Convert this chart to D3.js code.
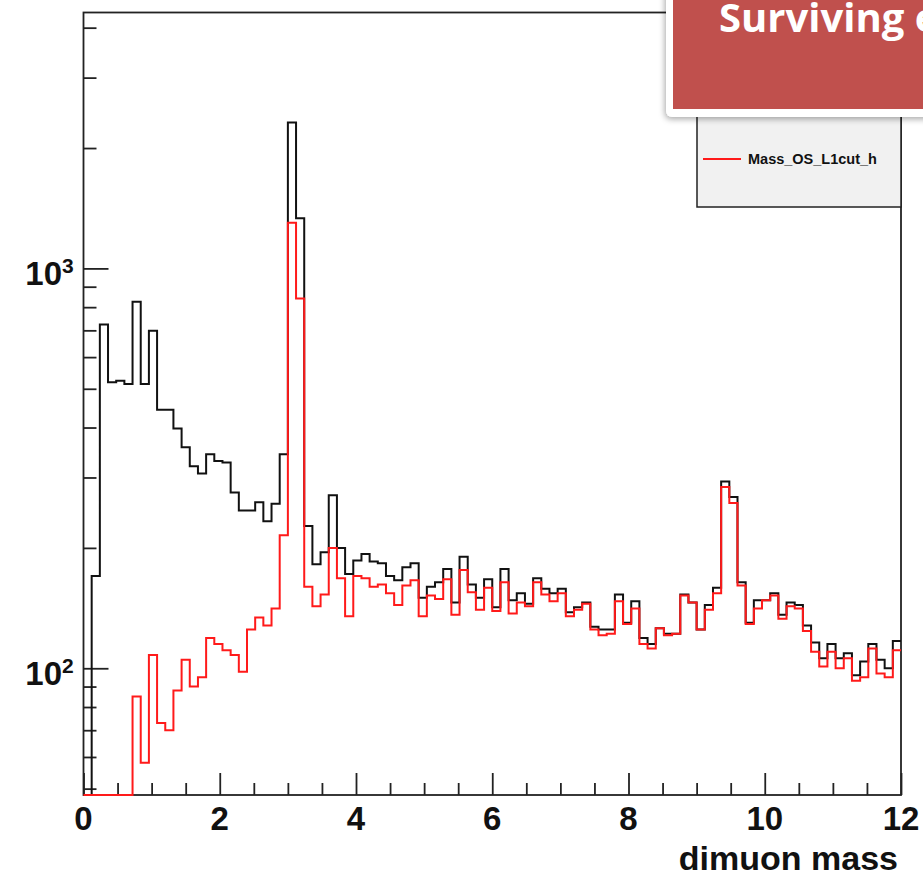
<!DOCTYPE html>
<html lang="en">
<head>
    <meta charset="UTF-8">
    <title>dimuon mass</title>
    <script src="https://d3js.org/d3.v7.min.js"></script>
    <style>
        body { margin: 0; background: #fff; }
        svg { display: block; font-family: "Liberation Sans", Arial, sans-serif; }
    </style>
</head>
<body>
<div id="chart"></div>
<script>
    // histogram binning: 100 bins between 0 and 12
    var binLow = 0;
    var binHigh = 12;
    // all opposite-sign pairs (black)
    var massOS = [
        0, 170, 724, 519, 524, 514, 825, 514, 698, 443,
        443, 398, 357, 320, 307, 343, 330, 327, 275, 248,
        248, 260, 233, 258, 343, 2317, 1334, 227, 182, 195,
        271, 200, 172, 186, 193, 185, 183, 170, 166, 179,
        183, 150, 160, 164, 177, 146, 190, 162, 150, 167,
        142, 177, 148, 154, 145, 168, 158, 154, 158, 138,
        142, 146, 127, 125, 125, 153, 130, 147, 119, 115,
        126, 122, 122, 153, 146, 125, 144, 159, 293, 268,
        164, 130, 148, 148, 154, 136, 146, 144, 128, 116,
        106, 115, 106, 109, 96, 104, 115, 105, 100, 117
    ];
    // after L1 cut (red)
    var massOSL1cut = [
        0, 0, 0, 0, 0, 0, 85, 58, 108, 73,
        70, 88, 105, 90, 95, 119, 115, 111, 108, 98,
        125, 134, 128, 141, 215, 1300, 841, 160, 143, 153,
        200, 168, 135, 170, 168, 160, 162, 154, 144, 161,
        166, 135, 152, 149, 167, 136, 176, 155, 140, 159,
        139, 164, 137, 146, 143, 164, 153, 147, 154, 135,
        140, 145, 125, 121, 122, 147, 129, 141, 115, 112,
        126, 121, 122, 152, 146, 125, 140, 154, 284, 259,
        161, 129, 141, 148, 152, 133, 143, 141, 124, 110,
        101, 110, 100, 106, 93, 95, 112, 97, 95, 111
    ];
    var xMajorTicks = [0, 2, 4, 6, 8, 10, 12];
    var xMinorTicks = [0.5, 1, 1.5, 2.5, 3, 3.5, 4.5, 5, 5.5, 6.5, 7, 7.5, 8.5, 9, 9.5, 10.5, 11, 11.5];
    var yMajorTicks = [100, 1000];
    var yExponents = ["2", "3"];
    var yMinorTicks = [50, 60, 70, 80, 90, 200, 300, 400, 500, 600, 700, 800, 900, 2000, 3000, 4000];
    var yRange = [48.2, 4365];
    var xTitle = "dimuon mass";
    var legendLabel = "Mass_OS_L1cut_h";
    var bannerTitle = "Surviving events";

    var W = 923, H = 879;
    var frame = { left: 83.5, right: 901, top: 12.5, bottom: 795 };

    var svg = d3.select("#chart")
        .append("svg")
        .attr("width", W)
        .attr("height", H);

    var defs = svg.append("defs");
    defs.append("filter")
        .attr("id", "shadow")
        .attr("x", "-20%").attr("y", "-20%")
        .attr("width", "140%").attr("height", "160%")
        .append("feDropShadow")
        .attr("dx", -1).attr("dy", 2)
        .attr("stdDeviation", 3)
        .attr("flood-color", "#000")
        .attr("flood-opacity", 0.35);

    var x = d3.scaleLinear()
        .domain([binLow, binHigh])
        .range([frame.left, frame.right]);
    var y = d3.scaleLog()
        .domain(yRange)
        .range([frame.bottom, frame.top]);

    // frame
    svg.append("rect")
        .attr("x", frame.left)
        .attr("y", frame.top)
        .attr("width", frame.right - frame.left)
        .attr("height", frame.bottom - frame.top)
        .attr("fill", "none")
        .attr("stroke", "#222")
        .attr("stroke-width", 1.8);

    // X axis (ticks point inside)
    var xMinorAxis = svg.append("g")
        .attr("transform", "translate(0," + frame.bottom + ")")
        .call(d3.axisBottom(x).tickValues(xMinorTicks).tickSize(-12).tickSizeOuter(0).tickFormat(""));
    var xMajorAxis = svg.append("g")
        .attr("transform", "translate(0," + frame.bottom + ")")
        .call(d3.axisBottom(x).tickValues(xMajorTicks).tickSize(-22).tickSizeOuter(0).tickFormat(""));

    // Y axis (log, ticks point inside)
    var yMinorAxis = svg.append("g")
        .attr("transform", "translate(" + frame.left + ",0)")
        .call(d3.axisLeft(y).tickValues(yMinorTicks).tickSize(-13).tickSizeOuter(0).tickFormat(""));
    var yMajorAxis = svg.append("g")
        .attr("transform", "translate(" + frame.left + ",0)")
        .call(d3.axisLeft(y).tickValues(yMajorTicks).tickSize(-25).tickSizeOuter(0).tickFormat(""));

    [xMinorAxis, xMajorAxis, yMinorAxis, yMajorAxis].forEach(function (g) {
        g.select(".domain").remove();
        g.selectAll(".tick line").attr("stroke", "#222").attr("stroke-width", 1.8);
    });

    // tick labels
    svg.append("g")
        .selectAll("text")
        .data(xMajorTicks)
        .enter()
        .append("text")
        .attr("x", function (d) { return x(d); })
        .attr("y", 830)
        .attr("text-anchor", "middle")
        .attr("font-size", 33)
        .attr("font-weight", "bold")
        .attr("fill", "#111")
        .text(function (d) { return d; });

    var yLabels = svg.append("g")
        .selectAll("g")
        .data(yMajorTicks)
        .enter()
        .append("g");
    yLabels.append("text")
        .attr("x", 62)
        .attr("y", function (d) { return y(d) + 17; })
        .attr("text-anchor", "end")
        .attr("font-size", 33)
        .attr("font-weight", "bold")
        .attr("fill", "#111")
        .text("10");
    yLabels.append("text")
        .attr("x", 62)
        .attr("y", function (d) { return y(d) + 5; })
        .attr("font-size", 21)
        .attr("font-weight", "bold")
        .attr("fill", "#111")
        .text(function (d, i) { return yExponents[i]; });

    // axis title
    svg.append("text")
        .attr("x", 898)
        .attr("y", 870)
        .attr("text-anchor", "end")
        .attr("font-size", 34)
        .attr("font-weight", "bold")
        .attr("fill", "#111")
        .text(xTitle);

    // histograms as step lines
    function steps(values) {
        var w = (binHigh - binLow) / values.length;
        var pts = [];
        values.forEach(function (v, i) {
            pts.push([binLow + i * w, v]);
            pts.push([binLow + (i + 1) * w, v]);
        });
        return pts;
    }
    var line = d3.line()
        .x(function (d) { return x(d[0]); })
        .y(function (d) { return y(Math.max(d[1], yRange[0])); });

    svg.append("path")
        .datum(steps(massOS))
        .attr("d", line)
        .attr("fill", "none")
        .attr("stroke", "#111")
        .attr("stroke-width", 2);
    svg.append("path")
        .datum(steps(massOSL1cut))
        .attr("d", line)
        .attr("fill", "none")
        .attr("stroke", "#ff1a1a")
        .attr("stroke-width", 2);

    // legend
    var legend = svg.append("g");
    legend.append("rect")
        .attr("x", 697)
        .attr("y", 80)
        .attr("width", frame.right - 697)
        .attr("height", 127)
        .attr("fill", "#f1f1f1")
        .attr("stroke", "#222")
        .attr("stroke-width", 1.5);
    legend.append("line")
        .attr("x1", 703).attr("x2", 741)
        .attr("y1", 159).attr("y2", 159)
        .attr("stroke", "#ff1a1a")
        .attr("stroke-width", 2);
    legend.append("text")
        .attr("x", 748)
        .attr("y", 164)
        .attr("font-size", 14.5)
        .attr("font-weight", "bold")
        .attr("fill", "#111")
        .text(legendLabel);

    // slide banner laid over the top right corner
    var banner = svg.append("g");
    banner.append("rect")
        .attr("x", 666)
        .attr("y", -20)
        .attr("width", 320)
        .attr("height", 137)
        .attr("rx", 6)
        .attr("fill", "#fff")
        .attr("filter", "url(#shadow)");
    banner.append("rect")
        .attr("x", 673)
        .attr("y", -20)
        .attr("width", 320)
        .attr("height", 129)
        .attr("fill", "#c0504d");
    banner.append("text")
        .attr("x", 719)
        .attr("y", 32)
        .attr("font-family", "'Open Sans', sans-serif")
        .attr("font-size", 40)
        .attr("font-weight", "bold")
        .attr("fill", "#fff")
        .text(bannerTitle);
</script>
</body>
</html>
